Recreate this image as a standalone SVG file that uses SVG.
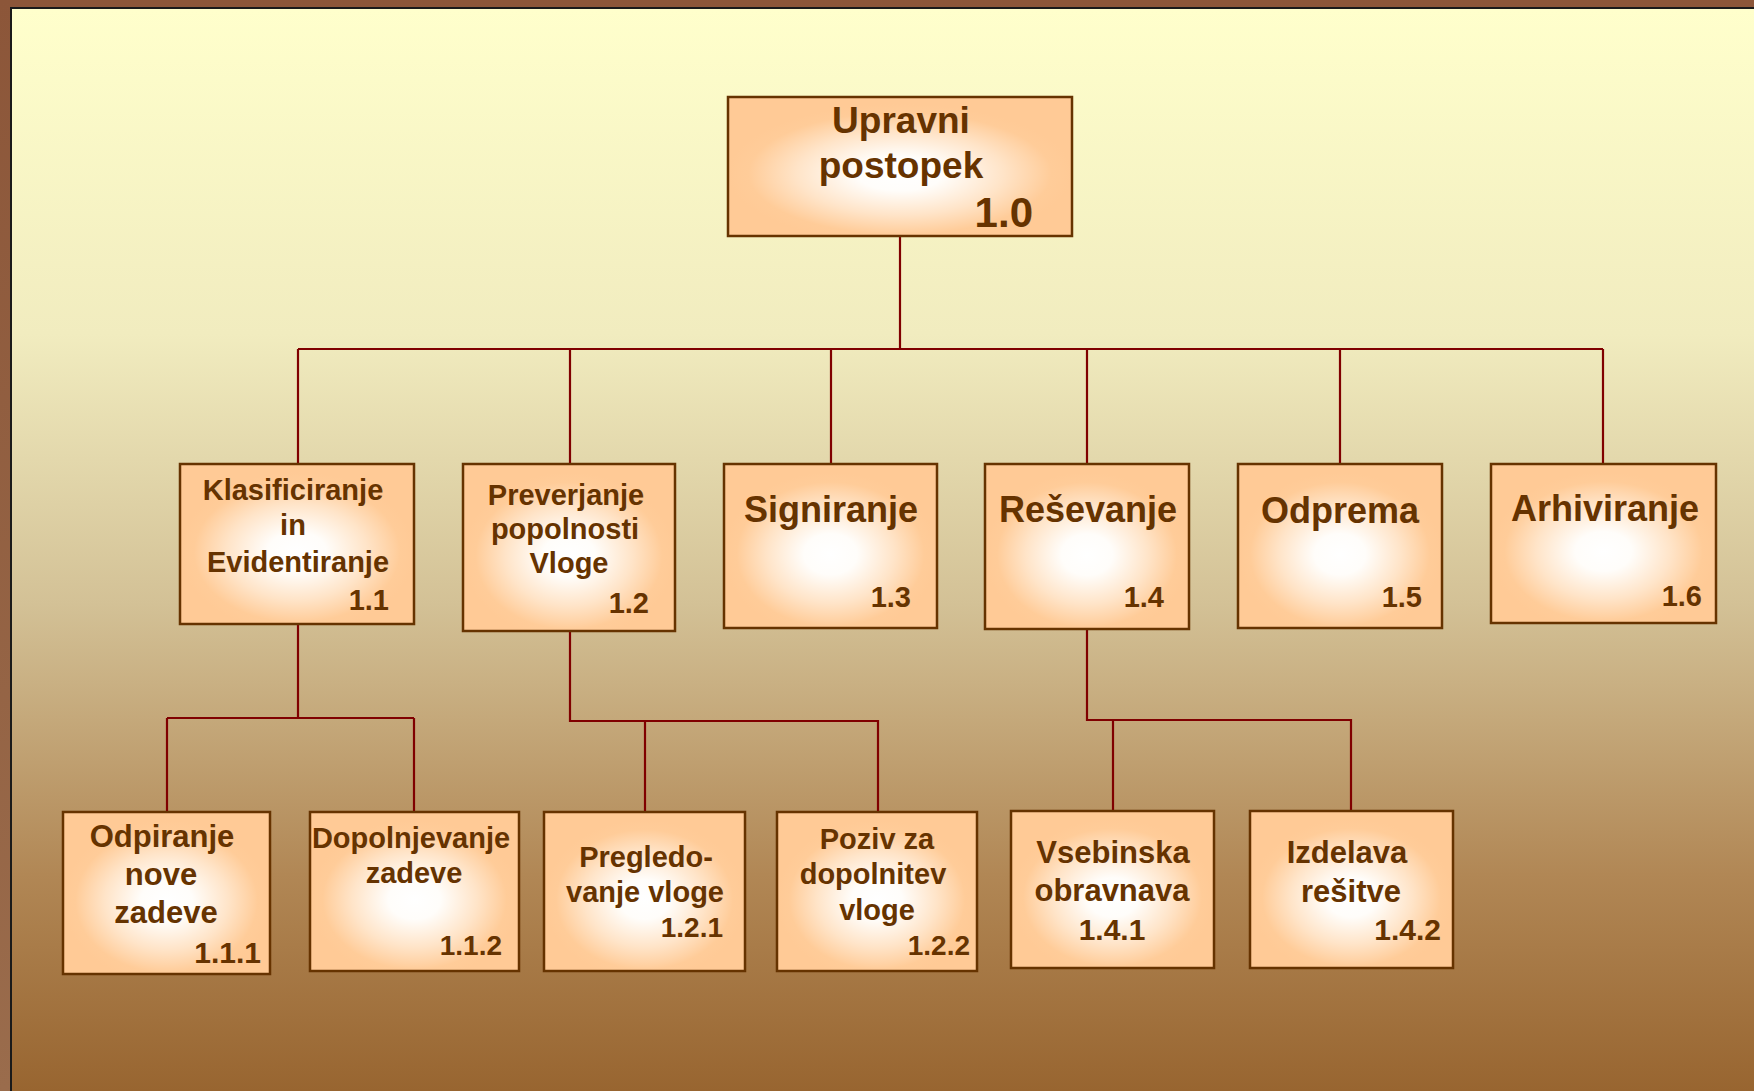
<svg xmlns="http://www.w3.org/2000/svg" width="1754" height="1091" viewBox="0 0 1754 1091">
  <defs>
    <linearGradient id="panelFill" x1="0" y1="0" x2="0" y2="1">
      <stop offset="0" stop-color="#ffffcc"/>
      <stop offset="0.3" stop-color="#f1ecbf"/>
      <stop offset="0.55" stop-color="#d3c196"/>
      <stop offset="0.8" stop-color="#b18755"/>
      <stop offset="1" stop-color="#986530"/>
    </linearGradient>
    <linearGradient id="frameFill" x1="0" y1="0" x2="0" y2="1">
      <stop offset="0" stop-color="#8c5639"/>
      <stop offset="1" stop-color="#9a6c4c"/>
    </linearGradient>
    <radialGradient id="boxFill" cx="0.5" cy="0.55" r="0.5" gradientUnits="objectBoundingBox">
      <stop offset="0" stop-color="#ffffff"/>
      <stop offset="0.25" stop-color="#fffdfa"/>
      <stop offset="0.6" stop-color="#ffe4c8"/>
      <stop offset="0.88" stop-color="#ffcc99"/>
      <stop offset="1" stop-color="#ffca96"/>
    </radialGradient>
    <style>
      .box { fill: url(#boxFill); stroke: #663300; stroke-width: 2.5; }
      .t { font-family: "Liberation Sans", Arial, sans-serif; font-weight: bold; fill: #663300; text-anchor: middle; }
      .n { font-family: "Liberation Sans", Arial, sans-serif; font-weight: bold; fill: #663300; text-anchor: end; }
      .link { fill: none; stroke: #800000; stroke-width: 2.2; }
    </style>
  </defs>

  <!-- frame and panel -->
  <rect x="0" y="0" width="1754" height="1091" fill="url(#frameFill)"/>
  <rect x="10" y="7" width="1744" height="1084" fill="#1a1a1a"/>
  <rect x="12" y="9" width="1742" height="1082" fill="url(#panelFill)"/>

  <!-- connectors -->
  <g id="connectors" class="link">
    <path d="M900 236 V349"/>
    <path d="M298 349 H1603"/>
    <path d="M298 349 V464 M570 349 V464 M831 349 V464 M1087 349 V464 M1340 349 V464 M1603 349 V464"/>
    <path d="M298 624 V718 M167 718 H414 M167 718 V812 M414 718 V812"/>
    <path d="M570 631 V721 H878 V812 M645 721 V812"/>
    <path d="M1087 629 V720 H1351 V811 M1113 720 V811"/>
  </g>

  <!-- root -->
  <g id="n1_0">
    <rect class="box" x="728" y="97" width="344" height="139"/>
    <text class="t" x="901" y="133" font-size="37">Upravni</text>
    <text class="t" x="901" y="178" font-size="37">postopek</text>
    <text class="n" x="1033" y="227" font-size="42">1.0</text>
  </g>

  <!-- level 1 -->
  <g id="n1_1">
    <rect class="box" x="180" y="464" width="234" height="160"/>
    <text class="t" x="293" y="500" font-size="29">Klasificiranje</text>
    <text class="t" x="293" y="535" font-size="29">in</text>
    <text class="t" x="298" y="572" font-size="29">Evidentiranje</text>
    <text class="n" x="389" y="610" font-size="29">1.1</text>
  </g>
  <g id="n1_2">
    <rect class="box" x="463" y="464" width="212" height="167"/>
    <text class="t" x="566" y="505" font-size="29">Preverjanje</text>
    <text class="t" x="565" y="539" font-size="29">popolnosti</text>
    <text class="t" x="569" y="573" font-size="29">Vloge</text>
    <text class="n" x="649" y="613" font-size="29">1.2</text>
  </g>
  <g id="n1_3">
    <rect class="box" x="724" y="464" width="213" height="164"/>
    <text class="t" x="831" y="522" font-size="36">Signiranje</text>
    <text class="n" x="911" y="607" font-size="29">1.3</text>
  </g>
  <g id="n1_4">
    <rect class="box" x="985" y="464" width="204" height="165"/>
    <text class="t" x="1088" y="522" font-size="36">Reševanje</text>
    <text class="n" x="1164" y="607" font-size="29">1.4</text>
  </g>
  <g id="n1_5">
    <rect class="box" x="1238" y="464" width="204" height="164"/>
    <text class="t" x="1340" y="523" font-size="36">Odprema</text>
    <text class="n" x="1422" y="607" font-size="29">1.5</text>
  </g>
  <g id="n1_6">
    <rect class="box" x="1491" y="464" width="225" height="159"/>
    <text class="t" x="1605" y="521" font-size="36">Arhiviranje</text>
    <text class="n" x="1702" y="606" font-size="29">1.6</text>
  </g>

  <!-- level 2 -->
  <g id="n1_1_1">
    <rect class="box" x="63" y="812" width="207" height="162"/>
    <text class="t" x="162" y="847" font-size="31">Odpiranje</text>
    <text class="t" x="161" y="885" font-size="31">nove</text>
    <text class="t" x="166" y="923" font-size="31">zadeve</text>
    <text class="n" x="261" y="963" font-size="30">1.1.1</text>
  </g>
  <g id="n1_1_2">
    <rect class="box" x="310" y="812" width="209" height="159"/>
    <text class="t" x="411" y="848" font-size="29">Dopolnjevanje</text>
    <text class="t" x="414" y="883" font-size="29">zadeve</text>
    <text class="n" x="502" y="955" font-size="28">1.1.2</text>
  </g>
  <g id="n1_2_1">
    <rect class="box" x="544" y="812" width="201" height="159"/>
    <text class="t" x="646" y="867" font-size="29">Pregledo-</text>
    <text class="t" x="645" y="902" font-size="29">vanje vloge</text>
    <text class="n" x="723" y="937" font-size="28">1.2.1</text>
  </g>
  <g id="n1_2_2">
    <rect class="box" x="777" y="812" width="200" height="159"/>
    <text class="t" x="877" y="849" font-size="29">Poziv za</text>
    <text class="t" x="873" y="884" font-size="29">dopolnitev</text>
    <text class="t" x="877" y="920" font-size="29">vloge</text>
    <text class="n" x="970" y="955" font-size="28">1.2.2</text>
  </g>
  <g id="n1_4_1">
    <rect class="box" x="1011" y="811" width="203" height="157"/>
    <text class="t" x="1113" y="863" font-size="31">Vsebinska</text>
    <text class="t" x="1112" y="901" font-size="31">obravnava</text>
    <text class="t" x="1112" y="940" font-size="30">1.4.1</text>
  </g>
  <g id="n1_4_2">
    <rect class="box" x="1250" y="811" width="203" height="157"/>
    <text class="t" x="1347" y="863" font-size="31">Izdelava</text>
    <text class="t" x="1351" y="902" font-size="31">rešitve</text>
    <text class="n" x="1441" y="940" font-size="30">1.4.2</text>
  </g>
</svg>
